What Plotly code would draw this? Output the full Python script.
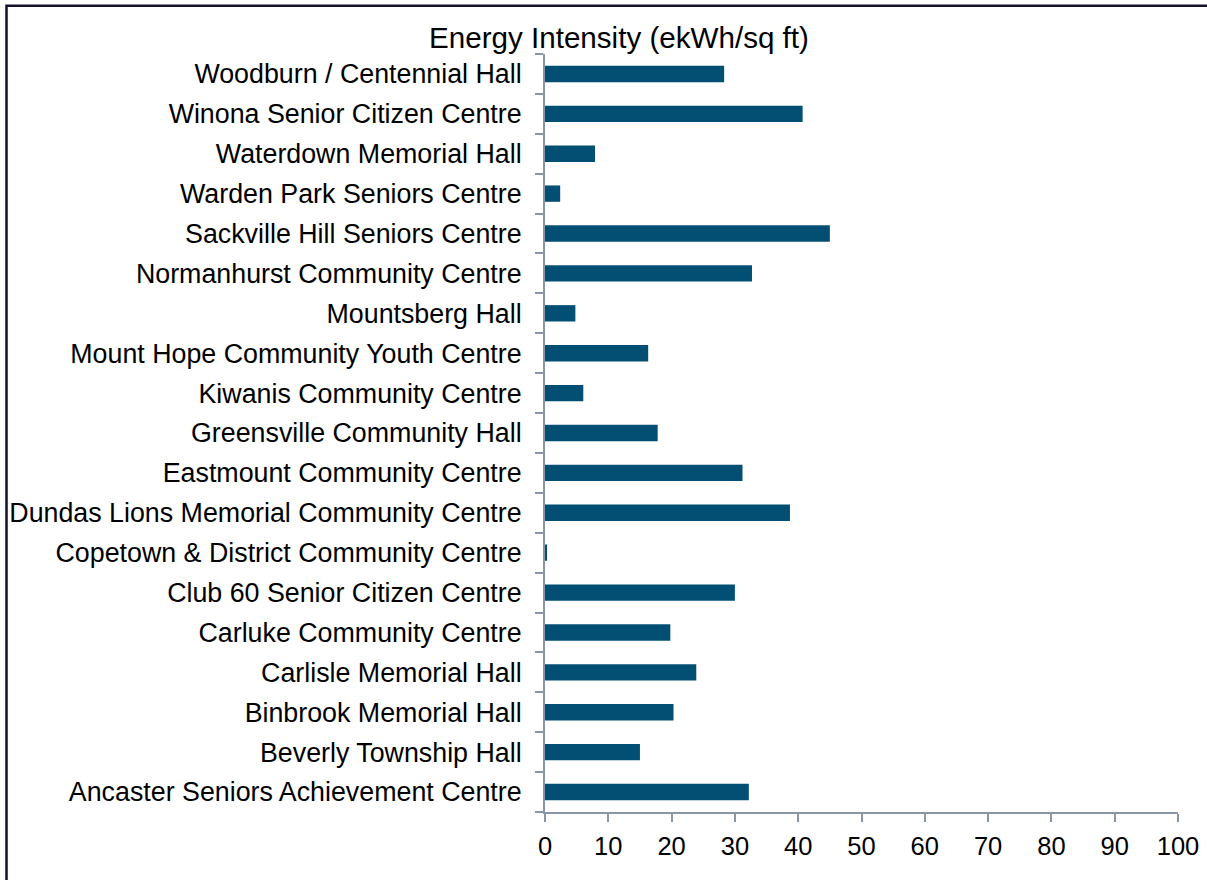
import plotly.graph_objects as go

categories = [
    "Ancaster Seniors Achievement Centre",
    "Beverly Township Hall",
    "Binbrook Memorial Hall",
    "Carlisle Memorial Hall",
    "Carluke Community Centre",
    "Club 60 Senior Citizen Centre",
    "Copetown & District Community Centre",
    "Dundas Lions Memorial Community Centre",
    "Eastmount Community Centre",
    "Greensville Community Hall",
    "Kiwanis Community Centre",
    "Mount Hope Community Youth Centre",
    "Mountsberg Hall",
    "Normanhurst Community Centre",
    "Sackville Hill Seniors Centre",
    "Warden Park Seniors Centre",
    "Waterdown Memorial Hall",
    "Winona Senior Citizen Centre",
    "Woodburn / Centennial Hall",
]
energy_intensity = [
    32.2, 15.0, 20.3, 23.9, 19.8, 30.0, 0.3, 38.7, 31.2, 17.8,
    6.05, 16.3, 4.8, 32.7, 45.0, 2.4, 7.9, 40.7, 28.3,
]
x_ticks = [0, 10, 20, 30, 40, 50, 60, 70, 80, 90, 100]
title_text = "Energy Intensity (ekWh/sq ft)"

W, H = 1207, 880
L, R, T, B = 545, 29, 54, 68
pw, ph = W - L - R, H - T - B

def px_x(p):
    return (p - L) / pw

def px_y(p):
    return (H - B - p) / ph

axis_col = "#8a96a7"
font_fam = "Liberation Sans, Arial, sans-serif"

fig = go.Figure(go.Bar(
    x=energy_intensity,
    y=categories,
    orientation="h",
    marker=dict(color="#034f74", line=dict(width=0)),
    hoverinfo="x+y",
))

fig.update_layout(
    width=W, height=H,
    margin=dict(l=L, r=R, t=T, b=B, autoexpand=False),
    paper_bgcolor="white",
    plot_bgcolor="white",
    bargap=0.59,
    showlegend=False,
    font=dict(family=font_fam, color="#000000"),
    xaxis=dict(
        range=[0, 100],
        tickvals=x_ticks,
        showgrid=False,
        zeroline=False,
        showline=True,
        linecolor=axis_col,
        linewidth=2,
        ticks="outside",
        ticklen=8,
        tickwidth=2,
        tickcolor=axis_col,
        ticklabelstandoff=2,
        tickfont=dict(size=25.5, family=font_fam, color="#000000"),
        fixedrange=True,
    ),
    yaxis=dict(
        type="category",
        categoryorder="array",
        categoryarray=categories,
        showgrid=False,
        zeroline=False,
        showline=True,
        linecolor=axis_col,
        linewidth=2,
        ticks="outside",
        tickson="boundaries",
        ticklen=8,
        tickwidth=2,
        tickcolor=axis_col,
        ticklabelstandoff=16,
        tickfont=dict(size=26.8, family=font_fam, color="#000000"),
        fixedrange=True,
    ),
    annotations=[dict(
        text=title_text,
        xref="paper", yref="paper",
        x=px_x(618.5), y=px_y(38),
        xanchor="center", yanchor="middle",
        showarrow=False,
        font=dict(size=29.6, family=font_fam, color="#000000"),
    )],
    shapes=[dict(
        type="path",
        xref="paper", yref="paper",
        path=f"M {px_x(1230)} {px_y(5.8)} L {px_x(6.5)} {px_y(5.8)} L {px_x(6.5)} {px_y(900)}",
        line=dict(color="#15112e", width=2.5),
        layer="above",
    )],
)

fig.write_html("out.html")
